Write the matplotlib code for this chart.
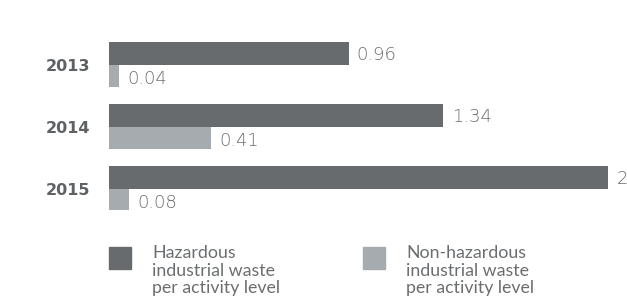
import numpy as np
import matplotlib
matplotlib.use("Agg")
import matplotlib.pyplot as plt
from matplotlib.patches import Rectangle

plt.rcParams['font.family'] = ['DejaVu Sans']

# data
years = ['2013', '2014', '2015']
hazardous = [0.96, 1.34, 2]
non_hazardous = [0.04, 0.41, 0.08]
labels_haz = ['0.96', '1.34', '2']
labels_non = ['0.04', '0.41', '0.08']
legend_labels = ['Hazardous\nindustrial waste\nper activity level',
                 'Non-hazardous\nindustrial waste\nper activity level']

dark = '#686b6d'
light = '#a6abb0'
txt = '#6b6e70'

W, H = 627, 306
fig = plt.figure(figsize=(W / 100, H / 100), dpi=100)
# axes placed in pixel units: x 109..608, y 42..210 (from top)
ax = fig.add_axes([109 / W, (H - 210) / H, 499 / W, 168 / H])

y = np.arange(len(years))
h = 0.365
ax.barh(y - h / 2, hazardous, height=h, color=dark)
ax.barh(y + h / 2, non_hazardous, height=h, color=light)

ax.set_xlim(0, 2)
ax.set_ylim(2 + h - 0.02, -h - 0.005)

for i in range(len(years)):
    ax.annotate(labels_haz[i], (hazardous[i], y[i] - h / 2), xytext=(6, -1),
                textcoords='offset points', va='center', ha='left',
                fontsize=13, fontweight='light', color=txt, annotation_clip=False)
    ax.annotate(labels_non[i], (non_hazardous[i], y[i] + h / 2), xytext=(6, -2),
                textcoords='offset points', va='center', ha='left',
                fontsize=13, fontweight='light', color=txt, annotation_clip=False)

ax.set_yticks(y)
ax.set_yticklabels(years, fontsize=11.5, fontweight='bold', color='#5f6264')
ax.tick_params(axis='y', length=0, pad=13.5)
ax.set_xticks([])
for s in ax.spines.values():
    s.set_visible(False)

# legend
sq = [(109, dark, 152), (363, light, 406)]
for (x0, c, tx), lab in zip(sq, legend_labels):
    fig.patches.append(Rectangle((x0 / W, (H - 269) / H), 22 / W, 22 / H,
                                 transform=fig.transFigure, color=c))
    fig.text(tx / W, (H - 245) / H, lab, ha='left', va='top', fontsize=12.8,
             family=['Lato', 'DejaVu Sans'], color=txt, linespacing=1.12)

fig.savefig('out.png', dpi=100)
